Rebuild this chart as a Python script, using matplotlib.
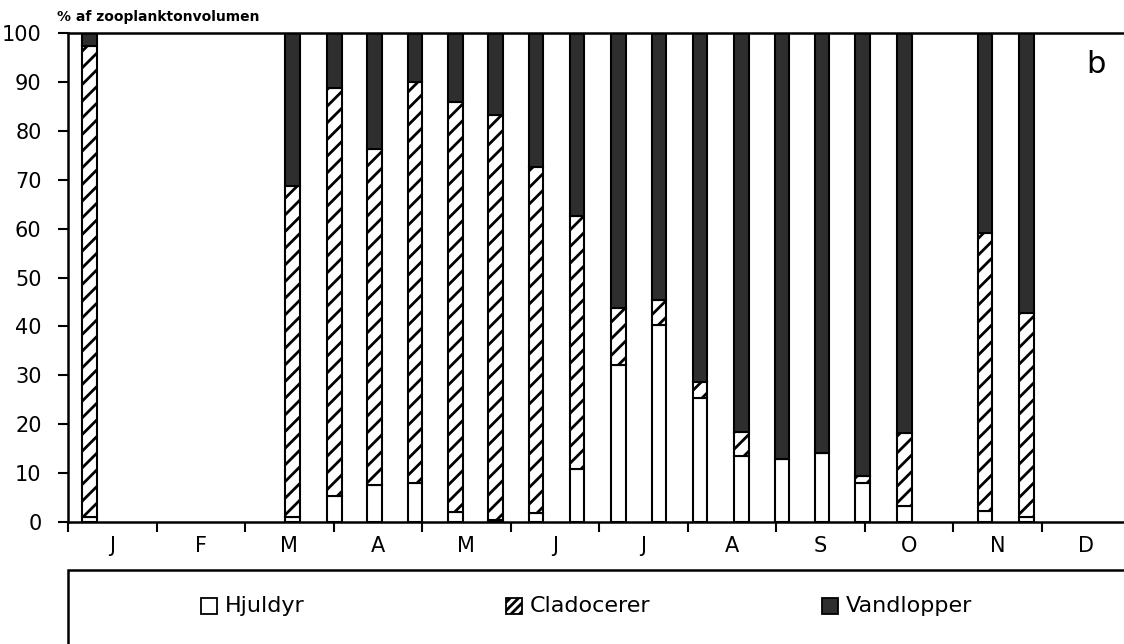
import matplotlib
matplotlib.use("Agg")
import matplotlib.pyplot as plt
from matplotlib.patches import Rectangle
import numpy as np

# sample dates in month units (0 = 1 Jan)
dates = [0.24, 2.54, 3.01, 3.46, 3.92, 4.38, 4.83, 5.29, 5.75, 6.22,
         6.68, 7.14, 7.61, 8.07, 8.52, 8.98, 9.45, 10.36, 10.83]
# cumulative tops
hjuldyr = [1.0, 1.0, 5.3, 7.6, 8.0, 2.0, 0.5, 1.8, 10.9, 32.2,
           40.3, 25.4, 13.5, 12.8, 14.1, 8.0, 3.3, 2.2, 1.1]
clad_top = [97.3, 68.7, 88.8, 76.2, 89.9, 85.9, 83.2, 72.6, 62.6, 43.7,
            45.3, 28.6, 18.4, 12.8, 14.1, 9.4, 18.2, 59.0, 42.8]
cladocerer = [c - h for c, h in zip(clad_top, hjuldyr)]
vandlopper = [100 - c for c in clad_top]

months = ["J", "F", "M", "A", "M", "J", "J", "A", "S", "O", "N", "D"]
yticks = list(range(0, 101, 10))
legend_labels = ["Hjuldyr", "Cladocerer", "Vandlopper"]

DARK = "#2e2e2e"
plt.rcParams['font.family'] = ['DejaVu Sans']
plt.rcParams['hatch.linewidth'] = 2.0

fig = plt.figure(figsize=(11.24, 6.44), dpi=100)
W, H = 1124, 644
ax = fig.add_axes([68 / W, (H - 522) / H, (1130 - 68) / W, (522 - 33) / H])

width = 0.165
ax.bar(dates, hjuldyr, width, color="white", edgecolor="black", linewidth=1.5)
ax.bar(dates, cladocerer, width, bottom=hjuldyr, color="white",
       edgecolor="black", hatch="//", linewidth=1.5)
ax.bar(dates, vandlopper, width, bottom=clad_top, color=DARK,
       edgecolor="black", linewidth=1.5)

ax.set_xlim(0, 12)
ax.set_ylim(0, 100)
ax.set_yticks(yticks)
ax.set_yticklabels([str(t) for t in yticks], fontsize=15)
ax.set_xticks(np.arange(0, 13))
ax.set_xticklabels([])
ax.set_xticks(np.arange(12) + 0.5, minor=True)
ax.set_xticklabels(months, minor=True, fontsize=15)
ax.tick_params(axis="x", which="minor", length=0, pad=10)
ax.tick_params(axis="x", which="major", length=7, width=1.5, direction="out")
ax.tick_params(axis="y", length=7, width=1.5, direction="out", pad=12)
for s in ax.spines.values():
    s.set_linewidth(1.8)

ax.text(0.968, 0.935, "b", transform=ax.transAxes, fontsize=22,
        ha="center", va="center")
fig.text(57 / W, 1 - 17 / H, "% af zooplanktonvolumen", fontsize=10,
         fontweight="bold", ha="left", va="center")

# legend box
rect = Rectangle((68 / W, -0.2), 1.2, (H - 570) / H + 0.2,
                 transform=fig.transFigure, fill=False, lw=1.8,
                 edgecolor="black", clip_on=False)
fig.add_artist(rect)
ly = 1 - 606 / H
items = [(201, "white", None, legend_labels[0]),
         (506, "white", "////", legend_labels[1]),
         (822, DARK, None, legend_labels[2])]
for x, fc, h, lab in items:
    sq = Rectangle((x / W, ly - 8 / H), 16 / W, 16 / H, transform=fig.transFigure,
                   facecolor=fc, edgecolor="black", lw=1.3, hatch=h)
    fig.add_artist(sq)
    fig.text((x + 24) / W, ly, lab, fontsize=16, ha="left", va="center")

fig.savefig("out.png", dpi=100)
